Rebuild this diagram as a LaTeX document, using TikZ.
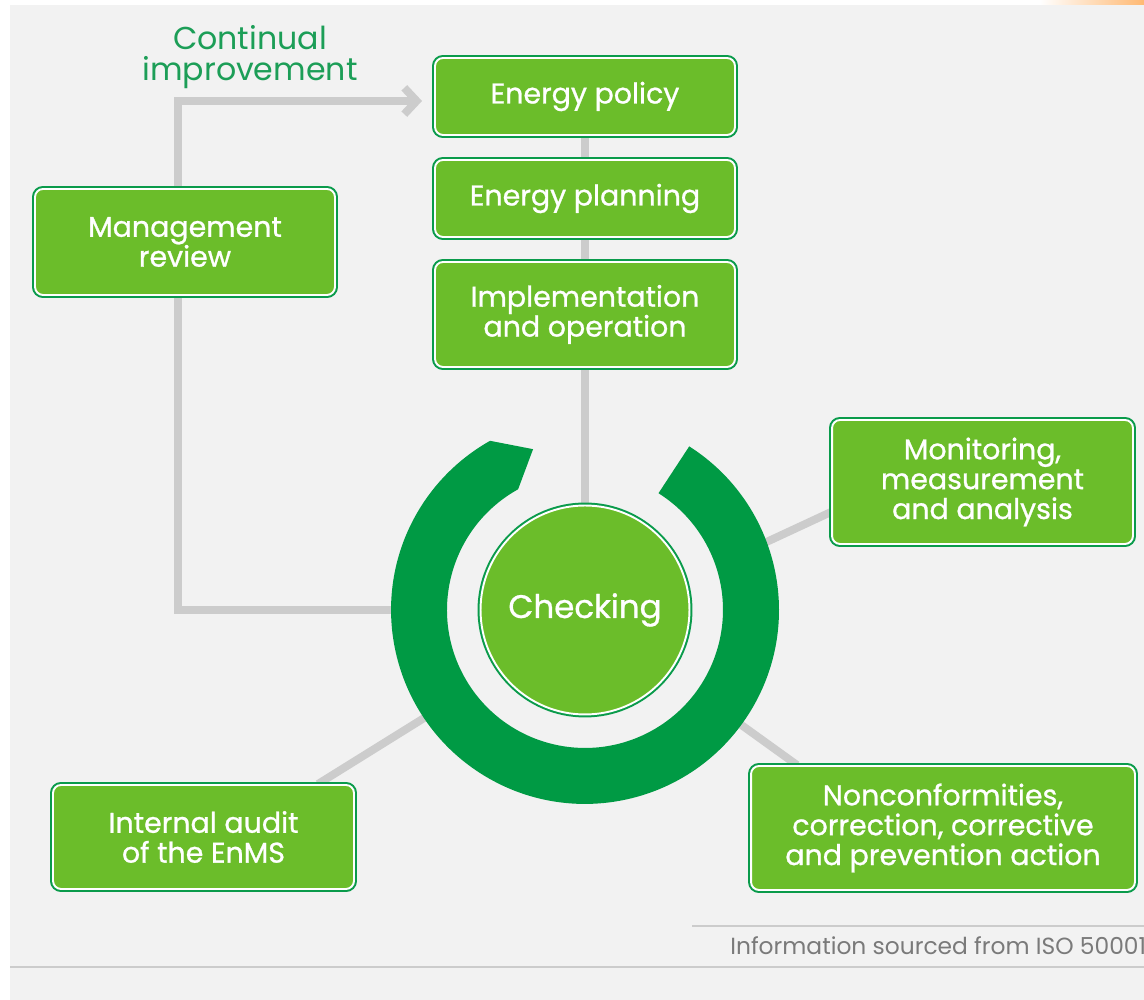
\documentclass[tikz,border=0pt]{standalone}
\usepackage{fontspec}
\setmainfont{Poppins}
\newfontfamily\stagefont[FakeBold=0.9]{Poppins}
\usetikzlibrary{arrows.meta,calc}
\definecolor{leafgreen}{HTML}{6BBD2A}
\definecolor{ringgreen}{HTML}{009A44}
\definecolor{edgegreen}{HTML}{0A9B4B}
\definecolor{titlegreen}{HTML}{1C9E57}
\definecolor{panel}{HTML}{F2F2F2}
\definecolor{linkgray}{HTML}{CCCCCC}
\definecolor{notegray}{HTML}{7A7A7A}
\pgfdeclarelayer{backdrop}
\pgfdeclarelayer{links}
\pgfsetlayers{backdrop,links,main}
\tikzset{
  stage/.style={rectangle, rounded corners=0.16cm, fill=leafgreen, draw=white,
    line width=1.1pt, preaction={draw=edgegreen, line width=3.4pt},
    text=white, align=center, inner sep=0pt,
    font={\stagefont\fontsize{16.2pt}{17pt}\selectfont}},
  link/.style={draw=linkgray, line width=4.5pt},
}
\begin{document}
\begin{tikzpicture}[x=0.02cm,y=0.02cm]
\useasboundingbox (0,0) rectangle (1144,1000);

% boxes of the cycle
\node[stage, minimum width=6cm, minimum height=1.54cm] (policy) at (585,903.5) {Energy policy};
\node[stage, minimum width=6cm, minimum height=1.54cm] (planning) at (585,801.5) {Energy planning};
\node[stage, minimum width=6cm, minimum height=2.1cm] (impl) at (585,685.5) {Implementation\\and operation};
\node[stage, minimum width=6cm, minimum height=2.12cm] (mgmt) at (185,758) {Management\\review};
\node[stage, minimum width=6.02cm, minimum height=2.48cm] (mon) at (982.5,518) {Monitoring,\\measurement\\and analysis};
\node[stage, minimum width=7.68cm, minimum height=2.48cm] (nc) at (943,172) {Nonconformities,\\correction, corrective\\and prevention action};
\node[stage, minimum width=6.02cm, minimum height=2.08cm] (audit) at (203.5,163) {Internal audit\\of the EnMS};
\node[stage, circle, minimum size=4.18cm, font={\stagefont\fontsize{18.5pt}{20pt}\selectfont}] (chk) at (585,390) {Checking};

% ring around the checking stage
\coordinate (C) at (585,390);
\fill[ringgreen] ($(C)+(57.5:194)$) arc[start angle=57.5, end angle=-240.7, radius=3.88cm]
  -- ($(C)+(-252.1:169)$) -- ($(C)+(-241:138)$)
  arc[start angle=-241, end angle=57.8, radius=2.76cm] -- cycle;

% title of the feedback loop
\node[text=titlegreen, align=center, font={\fontsize{18pt}{18pt}\selectfont}] (title) at (250,943) {Continual\\improvement};

% page background and rules
\begin{pgfonlayer}{backdrop}
  \fill[white] (0,0) rectangle (1144,1000);
  \fill[panel] (10,0) rectangle (1144,995);
  \shade[left color=white, right color=orange!55] (1040,995) rectangle (1144,1000);
  \draw[linkgray, line width=0.8pt] (692,74) -- (1144,74);
  \draw[linkgray, line width=0.8pt] (10,33) -- (1144,33);
\end{pgfonlayer}

% connectors
\coordinate (ciEnd) at (422,899);
\coordinate (mgEnd) at (400,390);
\coordinate (monS) at (745,448);
\coordinate (ncS) at (715,294);
\coordinate (auS) at (445,295);
\begin{pgfonlayer}{links}
  \draw[link, -{Straight Barb[length=7pt, width=15pt]}] ([xshift=-0.14cm]mgmt.north) |- (ciEnd);
  \draw[link] ([xshift=-0.14cm]mgmt.south) |- (mgEnd);
  \draw[link] (policy) -- (planning);
  \draw[link] (planning) -- (impl);
  \draw[link] (impl) -- (chk);
  \draw[link] (monS) -- ([yshift=-0.6cm]mon.west);
  \draw[link] (ncS) -- ([xshift=-2.92cm]nc.north);
  \draw[link] (auS) -- ([xshift=2.29cm]audit.north);
\end{pgfonlayer}

% source note, running off the right edge
\begin{scope}
  \clip (0,0) rectangle (1144,1000);
  \node[anchor=base west, inner sep=0pt, text=notegray, font={\fontsize{13.3pt}{16pt}\selectfont}] (src) at (730,45) {Information sourced from ISO 50001};
\end{scope}
\end{tikzpicture}
\end{document}
